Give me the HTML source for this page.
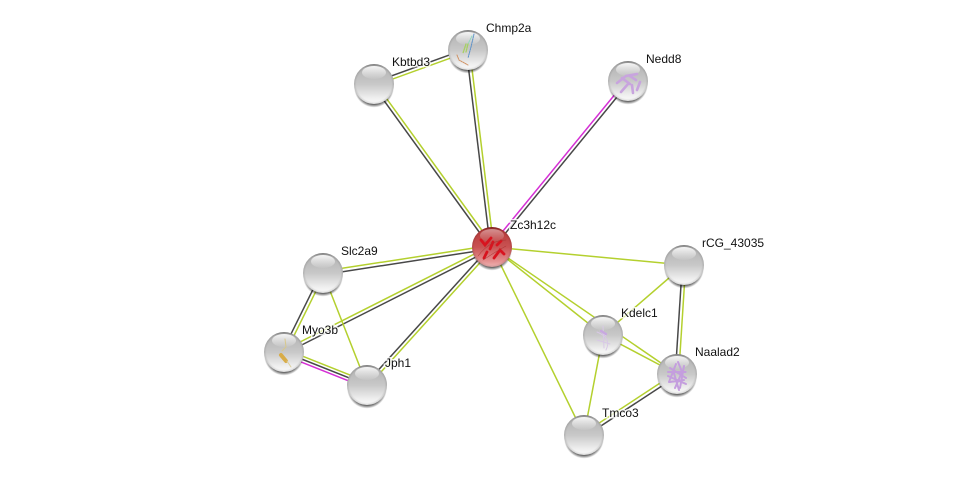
<!DOCTYPE html>
<html><head><meta charset="utf-8"><style>
html,body{margin:0;padding:0;background:#fff}
svg{display:block}
text{font-family:"Liberation Sans",sans-serif;font-size:12px;fill:#111;paint-order:stroke;stroke:rgba(255,255,255,.8);stroke-width:3px}
line{stroke-width:1.5;fill:none}
.g{stroke:#b4d02e}
.d{stroke:#484848}
.m{stroke:#d52fd5}
</style></head><body>
<svg width="975" height="480" viewBox="0 0 975 480" xmlns="http://www.w3.org/2000/svg">
<defs>
<linearGradient id="b" x1="0" y1="0" x2="0" y2="1"><stop offset="0" stop-color="#8c8c8c"/><stop offset=".1" stop-color="#b4b4b4"/><stop offset=".5" stop-color="#c8c8c8"/><stop offset=".85" stop-color="#efefef"/><stop offset="1" stop-color="#fafafa"/></linearGradient>
<linearGradient id="r" x1="0" y1="0" x2="0" y2="1"><stop offset="0" stop-color="#8a2222"/><stop offset=".1" stop-color="#b83c3c"/><stop offset=".5" stop-color="#c95252"/><stop offset=".85" stop-color="#e49090"/><stop offset="1" stop-color="#f0b4b4"/></linearGradient>
<radialGradient id="e" cx=".5" cy=".5" r=".5"><stop offset=".88" stop-color="#000" stop-opacity="0"/><stop offset="1" stop-color="#000" stop-opacity=".13"/></radialGradient>
<linearGradient id="h" x1="0" y1="0" x2="0" y2="1"><stop offset="0" stop-color="#fff" stop-opacity=".9"/><stop offset="1" stop-color="#fff" stop-opacity=".05"/></linearGradient>
<radialGradient id="s" cx=".5" cy=".5" r=".5"><stop offset=".82" stop-color="#000" stop-opacity=".7"/><stop offset="1" stop-color="#000" stop-opacity="0"/></radialGradient>
<g id="n"><ellipse cx="0" cy="3" rx="20" ry="20.5" fill="url(#s)"/><circle r="20" fill="url(#b)"/><circle r="20" fill="url(#e)"/><ellipse cx="0" cy="-11.5" rx="12" ry="6.5" fill="url(#h)"/></g>
<g id="nr"><ellipse cx="0" cy="3" rx="20" ry="20.5" fill="url(#s)"/><circle r="20" fill="url(#r)"/><circle r="20" fill="url(#e)"/><ellipse cx="0" cy="-11.5" rx="12" ry="6.5" fill="url(#h)" opacity=".5"/></g>
</defs>

<!-- edges -->
<line class="d" x1="373.5" y1="82.4" x2="467.5" y2="48.4"/><line class="g" x1="374.5" y1="85.6" x2="468.5" y2="51.6"/>
<line class="d" x1="466.3" y1="50" x2="490.3" y2="247"/><line class="g" x1="469.7" y1="50" x2="493.7" y2="247"/>
<line class="d" x1="372.7" y1="85" x2="490.7" y2="248"/><line class="g" x1="375.3" y1="83" x2="493.3" y2="246"/>
<line class="m" x1="626.7" y1="80" x2="490.7" y2="246"/><line class="d" x1="629.3" y1="82" x2="493.3" y2="248"/>
<line class="g" x1="322.7" y1="271.3" x2="491.7" y2="245.3"/><line class="d" x1="323.3" y1="274.7" x2="492.3" y2="248.7"/>
<line class="g" x1="283.2" y1="350.5" x2="491.2" y2="245.5"/><line class="d" x1="284.8" y1="353.5" x2="492.8" y2="248.5"/>
<line class="d" x1="365.8" y1="383.9" x2="490.8" y2="245.9"/><line class="g" x1="368.2" y1="386.1" x2="493.2" y2="248.1"/>
<line class="d" x1="321.5" y1="272.2" x2="282.5" y2="351.2"/><line class="g" x1="324.5" y1="273.8" x2="285.5" y2="352.8"/>
<line class="g" x1="323" y1="273" x2="367" y2="385"/>
<line class="g" x1="285" y1="349.2" x2="368" y2="382.2"/><line class="d" x1="284" y1="352" x2="367" y2="385"/><line class="m" x1="283" y1="354.8" x2="366" y2="387.8"/>
<line class="g" x1="492" y1="247" x2="684" y2="265"/>
<line class="g" x1="492" y1="247" x2="603" y2="335"/>
<line class="g" x1="492" y1="247" x2="677" y2="374"/>
<line class="g" x1="492" y1="247" x2="584" y2="435"/>
<line class="g" x1="603" y1="335" x2="684" y2="265"/>
<line class="g" x1="603" y1="335" x2="677" y2="374"/>
<line class="g" x1="603" y1="335" x2="584" y2="435"/>
<line class="d" x1="682.3" y1="265" x2="675.3" y2="374"/><line class="g" x1="685.7" y1="265" x2="678.7" y2="374"/>
<line class="g" x1="676" y1="372.6" x2="583" y2="433.6"/><line class="d" x1="678" y1="375.4" x2="585" y2="436.4"/>

<!-- nodes -->
<use href="#n" x="374" y="84"/>
<use href="#n" x="468" y="50"/>
<use href="#n" x="628" y="81"/>
<use href="#nr" x="492" y="247"/>
<use href="#n" x="323" y="273"/>
<use href="#n" x="284" y="352"/>
<use href="#n" x="367" y="385"/>
<use href="#n" x="684" y="265"/>
<use href="#n" x="603" y="335"/>
<use href="#n" x="677" y="374"/>
<use href="#n" x="584" y="435"/>

<!-- protein structures -->
<g fill="none" stroke-linecap="round">
<path d="M474 34L471 47L468 58" stroke="#5a90c8" stroke-width="1" stroke-dasharray="1.5 1"/>
<path d="M472 36L467 46" stroke="#8fd8c0" stroke-width="1" stroke-dasharray="1.5 1"/>
<path d="M466 44L463 53M468 44L466 52" stroke="#a8d060" stroke-width="1.3" stroke-dasharray="1.5 1"/>
<path d="M457 55L459 60L468 65" stroke="#d09060" stroke-width="1" stroke-dasharray="1.5 1"/>
<path d="M617 83L626 76L637 74M621 92L628 84M640 82L637 90M632 85L633 93M622 78L630 84M630 76L636 80" stroke="#c8a4de" stroke-width="2.6"/>
<path d="M481 240L485 245L491 238M484 258L487 252M494 258L500 250L504 254M490 249L493 242M497 245L501 241" stroke="#d8141f" stroke-width="2.8" stroke-dasharray="2 .8"/>
<path d="M478 256Q490 240 506 240M483 260Q495 252 506 246" stroke="#a83030" stroke-width=".5"/>
<path d="M285 339L286 347L282 351" stroke="#d8c88c" stroke-width="1"/>
<path d="M281 355L286 361" stroke="#d8ac48" stroke-width="4" stroke-dasharray="2 .6"/>
<path d="M287 361L291 367" stroke="#dcd0a0" stroke-width="1"/>
<path d="M600 331L606 336M603 326L604 348M597 340L610 344M597 332Q612 338 606 350" stroke="#d8c8e6" stroke-width="1"/>
<path d="M601 331L606 334" stroke="#c8a8e0" stroke-width="2.4"/>
<path d="M678 362L682 372L675 388M670 368L686 378M668 376L686 384M676 364L669 382M684 366L680 388M673 370L679 390M668 372L686 372M670 382L684 380" stroke="#c49ede" stroke-width="2" stroke-dasharray="1.5 .8"/>
</g>

<!-- labels -->
<text x="486" y="32">Chmp2a</text>
<text x="392" y="66">Kbtbd3</text>
<text x="646" y="63">Nedd8</text>
<text x="510" y="229">Zc3h12c</text>
<text x="341" y="255">Slc2a9</text>
<text x="302" y="334">Myo3b</text>
<text x="385" y="367">Jph1</text>
<text x="702" y="247">rCG_43035</text>
<text x="621" y="317">Kdelc1</text>
<text x="695" y="356">Naalad2</text>
<text x="602" y="417">Tmco3</text>
</svg>
</body></html>
